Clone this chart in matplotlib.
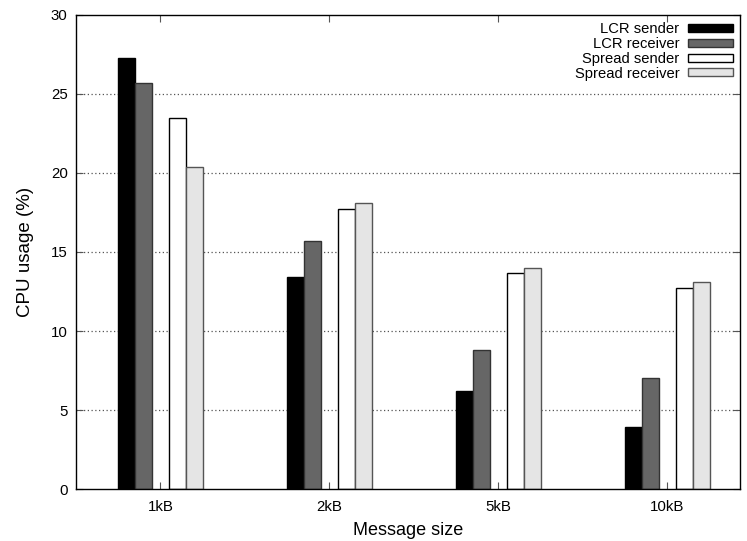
import matplotlib
matplotlib.use("Agg")
import matplotlib.pyplot as plt
import numpy as np

plt.rcParams['font.family'] = ['Liberation Sans', 'DejaVu Sans']

sizes = ["1kB", "2kB", "5kB", "10kB"]
lcr_sender = [27.3, 13.4, 6.2, 3.9]
lcr_receiver = [25.7, 15.7, 8.8, 7.0]
spread_sender = [23.5, 17.7, 13.7, 12.7]
spread_receiver = [20.4, 18.1, 14.0, 13.1]

series = [
    ("LCR sender", lcr_sender, "#000000", "#000000", -0.2),
    ("LCR receiver", lcr_receiver, "#666666", "#333333", -0.1),
    ("Spread sender", spread_sender, "#ffffff", "#000000", 0.1),
    ("Spread receiver", spread_receiver, "#e5e5e5", "#555555", 0.2),
]

fig = plt.figure(figsize=(7.47, 5.41), dpi=100)
ax = fig.add_axes([0.1017, 0.0961, 0.8889, 0.8762])

x = np.arange(len(sizes))
width = 0.1
for label, vals, fc, ec, off in series:
    ax.bar(x + off, vals, width, color=fc, edgecolor=ec, linewidth=1.0,
           label=label, zorder=3)

ax.set_xlim(-0.5, 3.43)
ax.set_ylim(0, 30)
ax.set_yticks(np.arange(0, 31, 5))
ax.set_xticks(x)
ax.set_xticklabels(sizes)
ax.tick_params(axis='both', direction='in', labelsize=10.8, length=5,
               top=True, right=True, width=0.8, color="#555555")
ax.tick_params(axis='x', pad=8)
ax.tick_params(axis='y', pad=6)

for yv in range(5, 30, 5):
    ax.axhline(yv, color="#555555", linestyle=(0, (1, 2)), linewidth=0.9, zorder=1)

for s in ax.spines.values():
    s.set_linewidth(1.0)
    s.set_zorder(4)

ax.set_xlabel("Message size", fontsize=13, labelpad=6)
ax.set_ylabel("CPU usage (%)", fontsize=13.5, labelpad=12)

leg = ax.legend(loc="upper right", frameon=False, markerfirst=False,
                fontsize=10.6, handlelength=3.0, handleheight=0.45,
                labelspacing=0.05, borderaxespad=0.1, handletextpad=0.6)

fig.savefig("out.png", dpi=100)
